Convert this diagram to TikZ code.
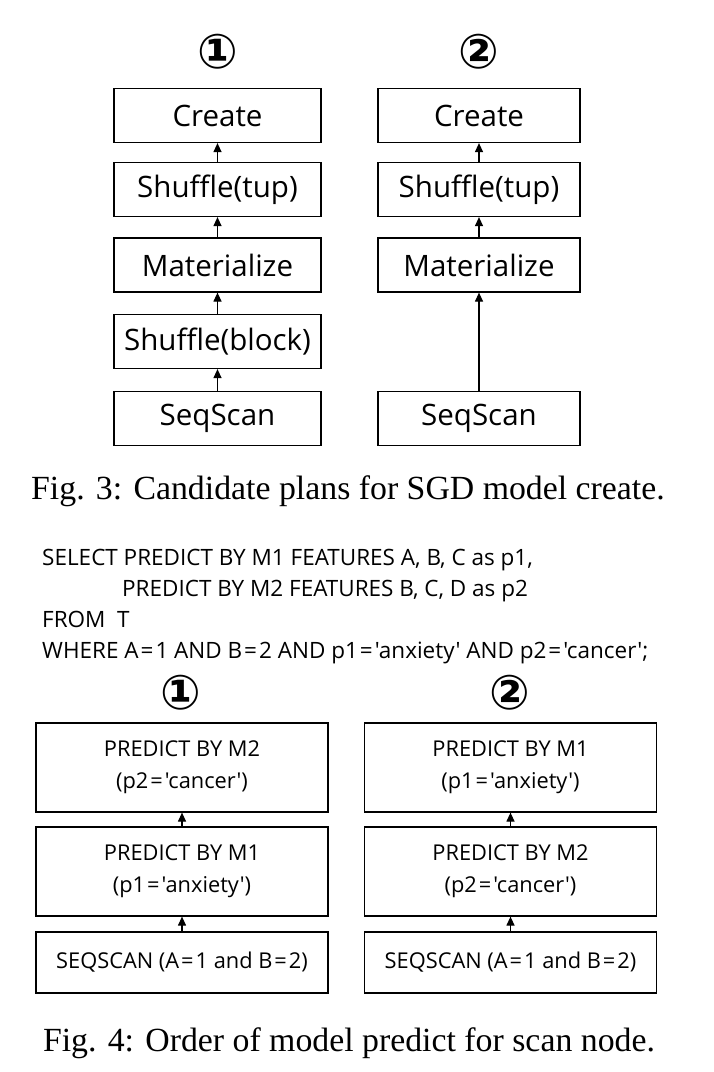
\documentclass[tikz,border=0pt]{standalone}
\usepackage{fontspec}
\setmainfont{Liberation Serif}
\newfontfamily\boxfont{Open Sans}
\newfontfamily\symfont{DejaVu Sans}
\usetikzlibrary{arrows.meta}
\newcommand{\eqs}{\kern2pt=\kern2pt}
\begin{document}
\begin{tikzpicture}[x=1pt,y=-1pt,
  bigbox/.style={draw,line width=1.2pt,inner sep=0pt,minimum height=54pt,font=\boxfont\fontsize{29.5}{34}\selectfont},
  lbox/.style={bigbox,minimum width=207pt},
  rbox/.style={bigbox,minimum width=202pt},
  pbox/.style={draw,line width=1.2pt,inner sep=0pt,minimum width=292pt,align=center,font=\boxfont\fontsize{21.8}{32}\selectfont},
  arr/.style={line width=1.2pt,-{Triangle[width=8pt,length=9pt]}},
  num/.style={font=\symfont\bfseries\fontsize{48}{48}\selectfont},
  sql/.style={anchor=base west,inner sep=0pt,font=\boxfont\fontsize{22.5}{26}\selectfont},
  figcap/.style={inner sep=0pt,font=\fontsize{33.8}{38}\selectfont}]
\useasboundingbox (0,0) rectangle (714,1072);
% Fig 3
\node[num] (n1) at (217.5,52) {①};
\node[num] (n2) at (479,52) {②};
\node[lbox] (a1) at (217.5,115.5) {Create};
\node[lbox] (a2) at (217.5,189.5) {Shuffle(tup)};
\node[lbox] (a3) at (217.5,265) {Materialize};
\node[lbox] (a4) at (217.5,341.5) {Shuffle(block)};
\node[lbox] (a5) at (217.5,418.5) {SeqScan};
\draw[arr] (a2) -- (a1);
\draw[arr] (a3) -- (a2);
\draw[arr] (a4) -- (a3);
\draw[arr] (a5) -- (a4);
\node[rbox] (b1) at (479,115.5) {Create};
\node[rbox] (b2) at (479,189.5) {Shuffle(tup)};
\node[rbox] (b3) at (479,265) {Materialize};
\node[rbox] (b5) at (479,418.5) {SeqScan};
\draw[arr] (b2) -- (b1);
\draw[arr] (b3) -- (b2);
\draw[arr] (b5) -- (b3);
\node[figcap] (c3) at (348,491) {Fig. 3: Candidate plans for SGD model create.};
% SQL
\node[sql] (s1) at (42,565) {SELECT PREDICT BY M1 FEATURES A, B, C as p1,};
\node[sql] (s2) at (122,596) {PREDICT BY M2 FEATURES B, C, D as p2};
\node[sql] (s3) at (42,627) {FROM\ \ T};
\node[sql] (s4) at (42,658) {WHERE A\eqs1 AND B\eqs2 AND p1\eqs'anxiety' AND p2\eqs'cancer';};
% Fig 4
\node[num] (m1) at (181,693) {①};
\node[num] (m2) at (510,693) {②};
\node[pbox,minimum height=89pt] (p1) at (182,767.5) {PREDICT BY M2\\(p2\eqs'cancer')};
\node[pbox,minimum height=89pt] (p2) at (182,871.5) {PREDICT BY M1\\(p1\eqs'anxiety')};
\node[pbox,minimum height=61pt] (p3) at (182,962.5) {SEQSCAN (A\eqs1 and B\eqs2)};
\draw[arr] (p2) -- (p1);
\draw[arr] (p3) -- (p2);
\node[pbox,minimum height=89pt] (q1) at (510.5,767.5) {PREDICT BY M1\\(p1\eqs'anxiety')};
\node[pbox,minimum height=89pt] (q2) at (510.5,871.5) {PREDICT BY M2\\(p2\eqs'cancer')};
\node[pbox,minimum height=61pt] (q3) at (510.5,962.5) {SEQSCAN (A\eqs1 and B\eqs2)};
\draw[arr] (q2) -- (q1);
\draw[arr] (q3) -- (q2);
\node[figcap] (c4) at (349,1043) {Fig. 4: Order of model predict for scan node.};
\end{tikzpicture}
\end{document}
